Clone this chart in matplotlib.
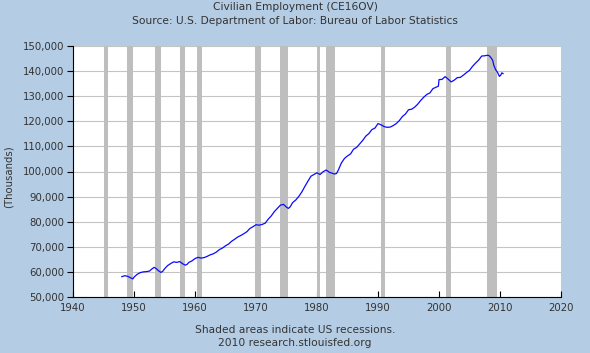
#!/usr/bin/env python
import numpy as np
import matplotlib.pyplot as plt
from matplotlib.ticker import FuncFormatter

# Civilian employment, thousands
years = [1948.0, 1948.5, 1949.0, 1949.5, 1949.8, 1950.0, 1950.5, 1951.0, 1951.5,
         1952.0, 1952.5, 1953.0, 1953.3, 1953.6, 1954.0, 1954.4, 1954.7, 1955.0, 1955.5,
         1956.0, 1956.5, 1957.0, 1957.5, 1958.0, 1958.4, 1958.7, 1959.0, 1959.5,
         1960.0, 1960.5, 1961.0, 1961.5, 1962.0, 1962.5, 1963.0, 1963.5,
         1964.0, 1964.5, 1965.0, 1965.5, 1966.0, 1966.5, 1967.0, 1967.5,
         1968.0, 1968.5, 1969.0, 1969.5, 1970.0, 1970.5, 1971.0, 1971.5,
         1972.0, 1972.5, 1973.0, 1973.5, 1974.0, 1974.5, 1975.0, 1975.3, 1975.6,
         1976.0, 1976.5, 1977.0, 1977.5, 1978.0, 1978.5, 1979.0, 1979.5,
         1980.0, 1980.5, 1981.0, 1981.5, 1982.0, 1982.5, 1982.9, 1983.2, 1983.5,
         1984.0, 1984.5, 1985.0, 1985.5, 1986.0, 1986.5, 1987.0, 1987.5,
         1988.0, 1988.5, 1989.0, 1989.5, 1990.0, 1990.5, 1991.0, 1991.5,
         1992.0, 1992.5, 1993.0, 1993.5, 1994.0, 1994.5, 1995.0, 1995.5,
         1996.0, 1996.5, 1997.0, 1997.5, 1998.0, 1998.5, 1999.0, 1999.9,
         2000.0, 2000.5, 2001.0, 2001.5, 2002.0, 2002.5, 2003.0, 2003.5,
         2004.0, 2004.5, 2005.0, 2005.5, 2006.0, 2006.5, 2007.0, 2007.5,
         2007.9, 2008.2, 2008.5, 2008.8, 2009.0, 2009.3, 2009.6, 2009.9,
         2010.1, 2010.3, 2010.5]
employment = [58100, 58500, 58200, 57600, 57200, 57900, 59000, 59700, 60000,
              60100, 60300, 61300, 61800, 61400, 60500, 59800, 60200, 61200, 62500,
              63300, 64000, 63800, 64100, 63200, 62700, 63000, 63800, 64400,
              65300, 65800, 65500, 65700, 66200, 66800, 67200, 67900,
              68900, 69500, 70400, 71100, 72200, 73000, 73900, 74500,
              75200, 76000, 77300, 78000, 78800, 78600, 78900, 79400,
              81000, 82300, 84000, 85300, 86600, 86900, 85800, 85300, 85900,
              87600, 88600, 90000, 91800, 94000, 96100, 98100, 98800,
              99500, 98800, 99900, 100600, 99700, 99300, 99000, 99200, 100600,
              103400, 105200, 106200, 107000, 108900, 109600, 111000, 112400,
              114100, 115100, 116700, 117300, 119100, 118600, 117900, 117600,
              117700, 118300, 119100, 120300, 121900, 122900, 124600, 124800,
              125600, 126800, 128300, 129600, 130700, 131300, 133000, 134000,
              136600, 136700, 137800, 136800, 135700, 136400, 137400, 137500,
              138400, 139400, 140300, 141900, 143200, 144400, 146000, 146100,
              146300, 146200, 145400, 144300, 142200, 140500, 139500, 137900,
              138300, 139300, 139000]

# US recessions (start, end)
recessions = [(1945.1, 1945.8), (1948.9, 1949.8), (1953.5, 1954.4),
              (1957.6, 1958.3), (1960.3, 1961.1), (1969.9, 1970.9),
              (1973.9, 1975.2), (1980.0, 1980.5), (1981.5, 1982.9),
              (1990.5, 1991.2), (2001.2, 2001.9), (2007.9, 2009.5)]

bg = '#b4cce4'
txt = '#333333'

fig = plt.figure(figsize=(5.9, 3.53), dpi=100, facecolor=bg)
ax = fig.add_axes([73/590, 56/353, 488/590, 251/353])
ax.set_facecolor('white')

for start, end in recessions:
    ax.axvspan(start, end, color='#bebebe', lw=0, zorder=1)

ax.grid(axis='y', color='#c4c4c4', lw=0.8, zorder=0)
ax.set_axisbelow(True)
ax.plot(years, employment, color='#0a0aff', lw=0.9, zorder=3)

ax.set_xlim(1940, 2020)
ax.set_ylim(50000, 150000)
ax.set_xticks(np.arange(1940, 2021, 10))
ax.set_yticks(np.arange(50000, 150001, 10000))
ax.yaxis.set_major_formatter(FuncFormatter(lambda v, p: '{:,.0f}'.format(v)))

for s in ['top', 'right']:
    ax.spines[s].set_visible(False)
ax.spines['left'].set_linewidth(0.8)
ax.spines['bottom'].set_linewidth(0.8)
ax.tick_params(axis='y', direction='out', length=4, width=0.8,
               labelsize=7.3, labelcolor=txt, pad=2)
ax.tick_params(axis='x', direction='in', length=4, width=0.8,
               labelsize=7.3, labelcolor=txt, pad=4)

fig.text(9/590, 1 - 177/353, '(Thousands)', rotation=90, ha='center', va='center',
         fontsize=7.3, color=txt)

fig.text(0.5, 1 - 7/353, 'Civilian Employment (CE16OV)', ha='center', va='center',
         fontsize=7.7, color=txt)
fig.text(0.5, 1 - 21/353, 'Source: U.S. Department of Labor: Bureau of Labor Statistics',
         ha='center', va='center', fontsize=7.7, color=txt)
fig.text(0.5, 1 - 330/353, 'Shaded areas indicate US recessions.', ha='center',
         va='center', fontsize=7.7, color=txt)
fig.text(0.5, 1 - 343/353, '2010 research.stlouisfed.org', ha='center',
         va='center', fontsize=7.7, color=txt)

plt.savefig('out.png', dpi=100, facecolor=bg)
